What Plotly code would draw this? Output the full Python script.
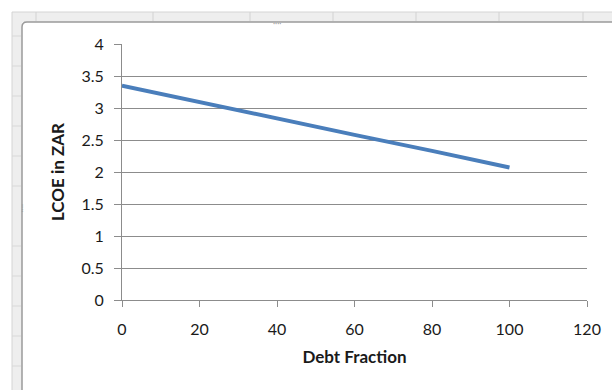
import plotly.graph_objects as go

# LCOE versus debt fraction
debt_fraction = [0, 20, 40, 60, 80, 100]
lcoe_zar = [3.35, 3.09, 2.84, 2.58, 2.33, 2.07]

x_ticks = [0, 20, 40, 60, 80, 100, 120]
y_ticks = [0, 0.5, 1, 1.5, 2, 2.5, 3, 3.5, 4]
y_tick_text = ["0", "0.5", "1", "1.5", "2", "2.5", "3", "3.5", "4"]

W, H = 612, 390
L, R, T, B = 122, 587, 44, 300  # plot area in pixels


def px(x):
    return (x - L) / (R - L)


def py(y):
    return (B - y) / (B - T)


FONT = "Lato, Carlito, Calibri, sans-serif"
GRID = "#8c8c8c"
TEXT = "#1a1a1a"

fig = go.Figure()
fig.add_trace(go.Scatter(
    x=debt_fraction, y=lcoe_zar, mode="lines",
    line=dict(color="#4a7ebb", width=4), showlegend=False,
))

shapes = []
# worksheet chrome around the chart object
shapes.append(dict(type="rect", xref="paper", yref="paper",
                   x0=px(12), x1=px(W + 5), y0=py(12), y1=py(22),
                   fillcolor="#eeeeee", line=dict(width=0), layer="below"))
shapes.append(dict(type="rect", xref="paper", yref="paper",
                   x0=px(12), x1=px(22), y0=py(12), y1=py(H + 5),
                   fillcolor="#eeeeee", line=dict(width=0), layer="below"))
shapes.append(dict(type="line", xref="paper", yref="paper",
                   x0=px(12), x1=px(W + 5), y0=py(12), y1=py(12),
                   line=dict(color="#d4d4d4", width=1)))
shapes.append(dict(type="line", xref="paper", yref="paper",
                   x0=px(12), x1=px(12), y0=py(12), y1=py(H + 5),
                   line=dict(color="#d4d4d4", width=1)))
for cx in [36, 153, 250, 333, 416, 499, 583]:
    shapes.append(dict(type="line", xref="paper", yref="paper",
                       x0=px(cx), x1=px(cx), y0=py(12), y1=py(21),
                       line=dict(color="#d2d2d2", width=1)))
for cy in [36, 66, 96, 126, 156, 186, 246, 276, 306, 336, 366]:
    shapes.append(dict(type="line", xref="paper", yref="paper",
                       x0=px(12), x1=px(21), y0=py(cy), y1=py(cy),
                       line=dict(color="#d8d8d8", width=1)))
# chart area border
shapes.append(dict(type="line", xref="paper", yref="paper",
                   x0=px(27), x1=px(W + 5), y0=py(22), y1=py(22),
                   line=dict(color="#9a9a9a", width=1.5)))
shapes.append(dict(type="line", xref="paper", yref="paper",
                   x0=px(22), x1=px(22), y0=py(27), y1=py(H + 5),
                   line=dict(color="#9a9a9a", width=1.5)))
shapes.append(dict(type="path", xref="paper", yref="paper",
                   path=f"M {px(22)},{py(27)} Q {px(22)},{py(22)} {px(27)},{py(22)}",
                   line=dict(color="#9a9a9a", width=1.5)))

annotations = [
    dict(text="····", xref="paper", yref="paper", x=px(277), y=py(16),
         showarrow=False, font=dict(size=8, color="#9a9a9a", family=FONT)),
    dict(text="····", xref="paper", yref="paper", x=px(16), y=py(208),
         showarrow=False, textangle=90, font=dict(size=8, color="#9a9a9a", family=FONT)),
]

fig.update_layout(
    width=W, height=H,
    margin=dict(l=L, r=W - R, t=T, b=H - B),
    paper_bgcolor="white", plot_bgcolor="white",
    shapes=shapes, annotations=annotations,
    xaxis=dict(
        range=[0, 120], tickvals=x_ticks, ticks="outside", ticklen=6,
        tickcolor=GRID, showline=True, linecolor=GRID, linewidth=1,
        showgrid=False, zeroline=False, ticklabelstandoff=9,
        tickfont=dict(family=FONT, size=16, color=TEXT),
        title=dict(text="<b>Debt Fraction</b>", standoff=13,
                   font=dict(family=FONT, size=17, color=TEXT)),
    ),
    yaxis=dict(
        range=[0, 4], tickvals=y_ticks, ticktext=y_tick_text,
        ticks="outside", ticklen=7, tickcolor=GRID,
        showline=True, linecolor=GRID, linewidth=1, ticklabelstandoff=7,
        showgrid=True, gridcolor=GRID, gridwidth=1, zeroline=False,
        tickfont=dict(family=FONT, size=16, color=TEXT),
        title=dict(text="<b>LCOE in ZAR</b>", standoff=12,
                   font=dict(family=FONT, size=17, color=TEXT)),
    ),
)

fig.write_html("out.html")
